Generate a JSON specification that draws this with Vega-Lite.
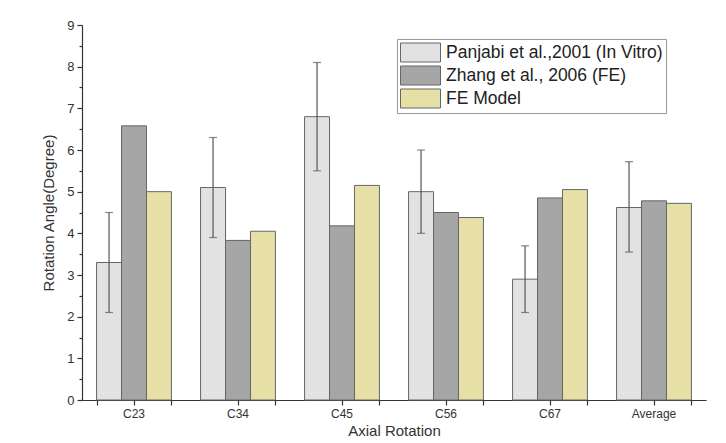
{
  "$schema": "https://vega.github.io/schema/vega-lite/v6.json",
  "width": 624,
  "height": 375,
  "autosize": {"type": "none"},
  "padding": {"left": 82, "top": 25, "right": 20, "bottom": 43},
  "background": "white",
  "config": {
    "view": {"stroke": null},
    "font": "Liberation Sans",
    "axis": {"domainColor": "#333", "tickColor": "#333", "labelColor": "#333", "titleColor": "#333", "domainWidth": 1.2, "tickWidth": 1.2, "labelFont": "Liberation Sans", "titleFont": "Liberation Sans", "titleFontWeight": "normal"}
  },
  "data": {
    "values": [
      {"cat": "C23", "series": "Panjabi et al.,2001 (In Vitro)", "value": 3.3, "lo": 2.1, "hi": 4.5},
      {"cat": "C23", "series": "Zhang et al., 2006 (FE)", "value": 6.58},
      {"cat": "C23", "series": "FE Model", "value": 5.0},
      {"cat": "C34", "series": "Panjabi et al.,2001 (In Vitro)", "value": 5.1, "lo": 3.9, "hi": 6.3},
      {"cat": "C34", "series": "Zhang et al., 2006 (FE)", "value": 3.83},
      {"cat": "C34", "series": "FE Model", "value": 4.05},
      {"cat": "C45", "series": "Panjabi et al.,2001 (In Vitro)", "value": 6.8, "lo": 5.5, "hi": 8.1},
      {"cat": "C45", "series": "Zhang et al., 2006 (FE)", "value": 4.18},
      {"cat": "C45", "series": "FE Model", "value": 5.15},
      {"cat": "C56", "series": "Panjabi et al.,2001 (In Vitro)", "value": 5.0, "lo": 4.0, "hi": 6.0},
      {"cat": "C56", "series": "Zhang et al., 2006 (FE)", "value": 4.5},
      {"cat": "C56", "series": "FE Model", "value": 4.38},
      {"cat": "C67", "series": "Panjabi et al.,2001 (In Vitro)", "value": 2.9, "lo": 2.1, "hi": 3.7},
      {"cat": "C67", "series": "Zhang et al., 2006 (FE)", "value": 4.85},
      {"cat": "C67", "series": "FE Model", "value": 5.05},
      {"cat": "Average", "series": "Panjabi et al.,2001 (In Vitro)", "value": 4.62, "lo": 3.55, "hi": 5.72},
      {"cat": "Average", "series": "Zhang et al., 2006 (FE)", "value": 4.78},
      {"cat": "Average", "series": "FE Model", "value": 4.72}
    ]
  },
  "encoding": {
    "x": {"field": "cat", "type": "nominal", "sort": null,
      "scale": {"paddingInner": 0.28, "paddingOuter": 0.14}},
    "xOffset": {"field": "series", "type": "nominal", "sort": ["Panjabi et al.,2001 (In Vitro)", "Zhang et al., 2006 (FE)", "FE Model"], "scale": {"paddingInner": 0, "paddingOuter": 0}}
  },
  "layer": [
    {
      "mark": {"type": "bar", "stroke": "#666", "strokeWidth": 1},
      "encoding": {
        "x": {"field": "cat", "type": "nominal", "sort": null,
          "axis": {"title": "Axial Rotation", "titleFontSize": 15, "titlePadding": 4, "labelFontSize": 12, "labelAngle": 0, "tickSize": 5, "labelPadding": 3, "domain": true}},
        "y": {"field": "value", "type": "quantitative",
          "scale": {"domain": [0, 9], "nice": false},
          "axis": {"title": "Rotation Angle(Degree)", "titleFontSize": 15, "titlePadding": 10, "labelFontSize": 13, "values": [0,1,2,3,4,5,6,7,8,9], "grid": false, "tickSize": 5, "labelPadding": 3}},
        "fill": {"field": "series", "type": "nominal", "sort": ["Panjabi et al.,2001 (In Vitro)", "Zhang et al., 2006 (FE)", "FE Model"],
          "scale": {"domain": ["Panjabi et al.,2001 (In Vitro)", "Zhang et al., 2006 (FE)", "FE Model"], "range": ["#e2e2e2", "#a6a6a6", "#e6e0a6"]},
          "legend": {"title": null, "orient": "none", "legendX": 315, "legendY": 14, "direction": "vertical",
            "symbolType": "M-1,-0.95H3V0.95H-1Z", "symbolSize": 400, "symbolStrokeColor": "#666", "symbolStrokeWidth": 1,
            "labelFontSize": 17.5, "labelColor": "#222", "labelLimit": 400, "rowPadding": 0, "labelOffset": 25,
            "strokeColor": "#999", "padding": 3, "fillColor": "white"}}
      }
    },
    {
      "transform": [{"filter": "datum.lo != null"}],
      "mark": {"type": "rule", "color": "#555", "strokeWidth": 1.2},
      "encoding": {
        "x": {"field": "cat", "type": "nominal", "sort": null,
          "axis": {"title": null, "labels": false, "tickBand": "extent", "tickSize": 5, "domain": false, "orient": "bottom"}},
        "y": {"field": "lo", "type": "quantitative",
          "axis": {"title": null, "labels": false, "values": [0.5,1.5,2.5,3.5,4.5,5.5,6.5,7.5,8.5], "tickSize": 3, "domain": false, "grid": false, "orient": "left"}},
        "y2": {"field": "hi"}
      }
    },
    {
      "transform": [{"filter": "datum.lo != null"}, {"fold": ["lo", "hi"], "as": ["k", "v"]}],
      "mark": {"type": "tick", "color": "#555", "thickness": 1.2, "size": 8, "orient": "horizontal"},
      "encoding": {
        "x": {"field": "cat", "type": "nominal", "sort": null, "axis": null},
        "y": {"field": "v", "type": "quantitative", "axis": null}
      }
    }
  ],
  "resolve": {"axis": {"x": "independent", "y": "independent"}}
}
